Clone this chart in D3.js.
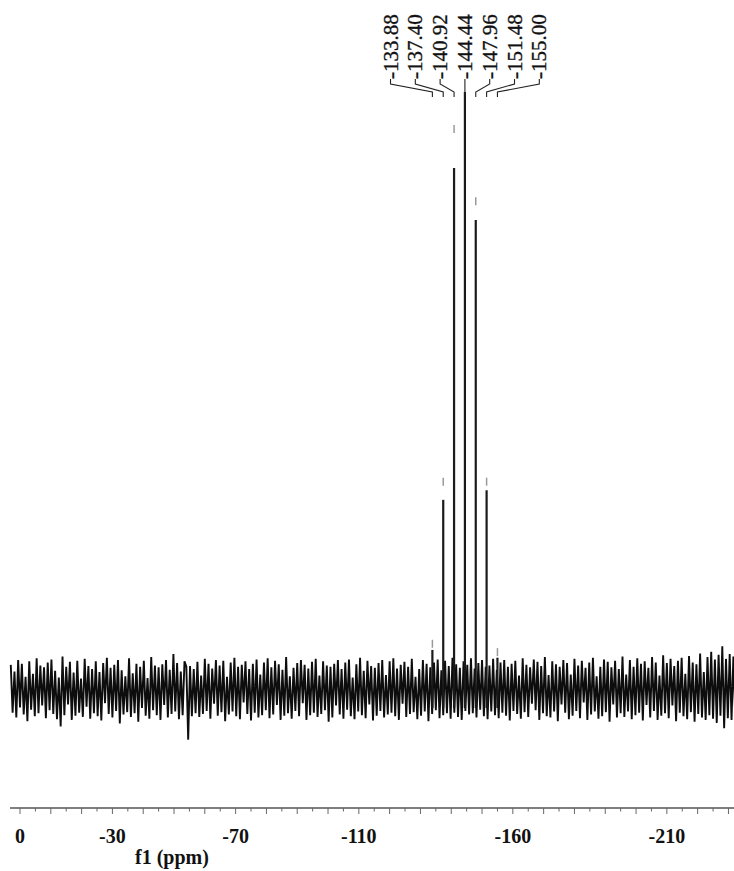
<!DOCTYPE html>
<html>
<head>
<meta charset="utf-8">
<script src="https://cdn.jsdelivr.net/npm/d3@7"></script>
<style>
  html, body { margin: 0; padding: 0; background: #fff; }
  svg { display: block; }
  .lbl { font-family: "Liberation Serif", "Times New Roman", serif; }
</style>
</head>
<body>
<svg id="chart" width="734" height="871"></svg>
<script>
// 19F NMR spectrum: a septet around -144.44 ppm on a noisy baseline.

// Peak positions (ppm), line heights and apex markers (relative intensity, tallest = 100)
const peakPpm    = [-133.88, -137.40, -140.92, -144.44, -147.96, -151.48, -155.00];
const peakHeight = [6.7, 31.8, 87.3, 100, 78.6, 33.4, 5.4];
const peakApex   = [8.4, 35.5, 94.5, 100, 82.4, 35.5, 7.0];

// Axis tick labels
const axisLabels = [0, -30, -70, -110, -160, -210];

// Baseline noise, one reading every 0.6 ppm from +3.0 ppm upfield
const noiseStartPpm = 3.0;
const noiseStepPpm = -0.6;
const noise = [
  4.2,-3.8,3.1,-4.6,5.0,-2.9,4.4,-4.1,2.2,-5.2,4.8,-3.3,2.7,-4.4,5.3,-3.9,4.1,-2.6,3.8,-4.7,
  4.6,-3.4,5.1,-4.0,3.2,-4.9,2.1,-6.1,5.6,-4.2,3.9,-2.4,4.7,-5.0,2.9,-4.3,4.9,-3.8,1.9,-4.5,
  5.2,-2.8,4.0,-4.8,3.5,-3.9,4.8,-4.4,3.0,-5.1,4.5,-2.2,5.4,-4.0,3.7,-4.6,4.2,-3.5,5.0,-5.6,
  3.3,-4.1,2.3,-3.7,5.3,-4.5,2.8,-3.9,4.4,-5.3,3.9,-3.0,4.9,-4.3,2.0,-4.8,5.5,-3.4,4.1,-4.2,
  3.8,-5.0,4.3,-2.5,5.0,-4.6,3.4,-4.0,6.0,-3.6,4.5,-4.9,3.1,-4.2,4.8,3.9,-8.3,4.0,-4.4,3.5,
  -3.9,4.7,-4.5,2.4,-4.0,5.2,-3.5,4.4,-4.8,3.6,-2.3,5.0,-4.3,4.1,-3.7,4.9,-5.2,2.2,-4.1,4.6,
  -3.6,5.4,-4.4,3.9,-4.9,4.2,-2.1,4.8,-4.0,3.5,-5.1,4.4,-3.8,5.1,-4.6,2.6,-4.2,4.6,-3.4,5.3,
  -4.7,3.8,-4.1,4.9,-2.5,4.3,-5.0,3.4,-4.3,5.5,-3.9,2.3,-4.8,3.7,-3.5,4.5,-4.4,5.0,-2.2,4.2,
  -5.0,3.6,-4.2,4.7,-3.8,5.2,-4.5,2.4,-4.0,4.8,-3.4,4.1,-5.3,3.9,-4.6,4.4,-2.6,5.0,-4.1,3.5,
  -4.8,4.6,-3.3,5.1,-4.4,2.1,-4.9,4.3,-3.6,5.4,-4.2,3.2,-4.7,4.9,-2.4,4.0,-5.1,3.7,-4.3,4.5,
  -3.5,5.0,-4.6,2.5,-4.1,4.8,-3.8,5.3,-4.4,3.6,-5.0,4.2,-2.3,4.7,-4.5,3.9,-4.0,5.2,-3.7,2.2,
  -4.9,3.5,-4.3,5.0,-3.6,4.4,-5.2,3.8,-4.0,4.6,-3.4,5.1,-4.7,3.3,-4.2,4.9,-3.9,4.0,-4.8,5.4,
  -3.8,4.3,-4.5,3.7,-5.0,4.8,-3.5,4.2,-4.1,5.3,-3.9,3.6,-4.6,4.5,-3.3,5.0,-4.4,3.9,-4.9,4.1,
  -3.6,5.2,-4.2,3.4,-4.7,4.6,-3.8,5.0,-4.3,3.9,-5.1,4.4,-3.5,4.9,-4.0,2.4,-4.8,5.3,-3.7,4.2,
  -4.5,3.8,-2.3,5.1,-3.4,4.7,-5.0,4.0,-3.9,5.5,-4.4,2.5,-4.6,4.8,-3.6,4.3,-5.2,3.9,-2.4,5.0,
  -3.8,4.5,-4.9,2.6,-4.3,5.2,-3.5,4.1,-4.7,4.9,-2.1,3.7,-5.0,4.6,-4.1,5.4,-3.6,2.3,-4.8,3.9,
  -4.4,5.1,-3.7,4.7,-5.3,3.8,-2.4,4.9,-4.6,3.5,-3.9,5.6,-4.5,2.6,-3.6,5.0,-4.9,3.9,-4.2,5.3,
  -3.8,4.4,-5.1,4.8,-2.5,3.7,-4.6,5.5,-3.5,4.6,-5.0,2.4,-4.3,5.8,-3.9,4.5,-4.7,5.2,-2.6,4.0,
  -5.2,4.9,-3.8,5.4,-4.4,2.7,-4.9,5.7,-3.7,4.6,-5.3,4.3,-4.0,6.1,-4.6,3.0,-5.0,5.5,-4.2,6.4,
  -4.8,5.1,-5.5,5.9,-4.3,7.3,-6.4,5.2,-4.7,6.0,-5.0,5.6,-4.5,6.2,-5.2,5.0,-4.6,5.8,-4.9,5.4
];

const svg = d3.select("#chart");

const x = d3.scaleLinear().domain([3.25, -231.8]).range([10, 734]);
const y = d3.scaleLinear().domain([0, 100]).range([690, 92]);

// Noisy baseline
const noisePts = noise.map((v, i) => [noiseStartPpm + noiseStepPpm * i, v]);
svg.append("path")
  .datum(noisePts)
  .attr("fill", "none")
  .attr("stroke", "#0d0d0d")
  .attr("stroke-width", 1.9)
  .attr("stroke-linejoin", "bevel")
  .attr("d", d3.line().x(d => x(d[0])).y(d => y(d[1])));

// Peak lines
const peaks = peakPpm.map((p, i) => ({ ppm: p, h: peakHeight[i], apex: peakApex[i], i }));
svg.append("g").selectAll("line.peak")
  .data(peaks)
  .join("line")
  .attr("class", "peak")
  .attr("x1", d => x(d.ppm)).attr("x2", d => x(d.ppm))
  .attr("y1", y(-3)).attr("y2", d => y(d.h))
  .attr("stroke", "#1a1a1a")
  .attr("stroke-width", 2.2);

// Apex markers above each peak
svg.append("g").selectAll("line.apex")
  .data(peaks.filter(d => d.apex > d.h))
  .join("line")
  .attr("x1", d => x(d.ppm)).attr("x2", d => x(d.ppm))
  .attr("y1", d => y(d.apex)).attr("y2", d => y(d.apex) + 8)
  .attr("stroke", "#999")
  .attr("stroke-width", 1.5);

// Peak labels with leader lines
const mid = 3;
const labelGap = 24.8;
const labelX = d => x(peakPpm[mid]) + (d.i - mid) * labelGap;
const textBase = 79;

svg.append("g").selectAll("path.leader")
  .data(peaks)
  .join("path")
  .attr("fill", "none")
  .attr("stroke", "#222")
  .attr("stroke-width", 1.1)
  .attr("d", d => {
    const lx = labelX(d), px = x(d.ppm);
    return `M${lx},${textBase} L${lx},84 L${px},92 L${px},97`;
  });

svg.append("g").selectAll("text.peaklbl")
  .data(peaks)
  .join("text")
  .attr("class", "lbl")
  .attr("transform", d => `translate(${labelX(d) + 7},${textBase}) rotate(-90)`)
  .attr("font-size", 21)
  .attr("fill", "#111")
  .attr("stroke", "#111")
  .attr("stroke-width", 0.35)
  .attr("text-anchor", "start")
  .text(d => d.ppm.toFixed(2));

// Axis
const axis = svg.append("g").attr("transform", "translate(0,808)");
axis.append("line")
  .attr("x1", 10).attr("x2", 734)
  .attr("stroke", "#555").attr("stroke-width", 1.3);

const ticks = d3.range(0, -235, -5);
axis.selectAll("line.tick")
  .data(ticks)
  .join("line")
  .attr("x1", d => x(d)).attr("x2", d => x(d))
  .attr("y1", 0).attr("y2", d => (d % 10 === 0 ? 6 : 3.5))
  .attr("stroke", "#666").attr("stroke-width", 1);

axis.selectAll("text.ticklbl")
  .data(axisLabels)
  .join("text")
  .attr("class", "lbl")
  .attr("x", d => x(d))
  .attr("y", 35)
  .attr("text-anchor", "middle")
  .attr("font-size", 20)
  .attr("font-weight", "bold")
  .attr("fill", "#111")
  .text(d => String(d));

svg.append("text")
  .attr("class", "lbl")
  .attr("x", 172)
  .attr("y", 864)
  .attr("text-anchor", "middle")
  .attr("font-size", 20)
  .attr("font-weight", "bold")
  .attr("fill", "#111")
  .text("f1 (ppm)");
</script>
</body>
</html>
